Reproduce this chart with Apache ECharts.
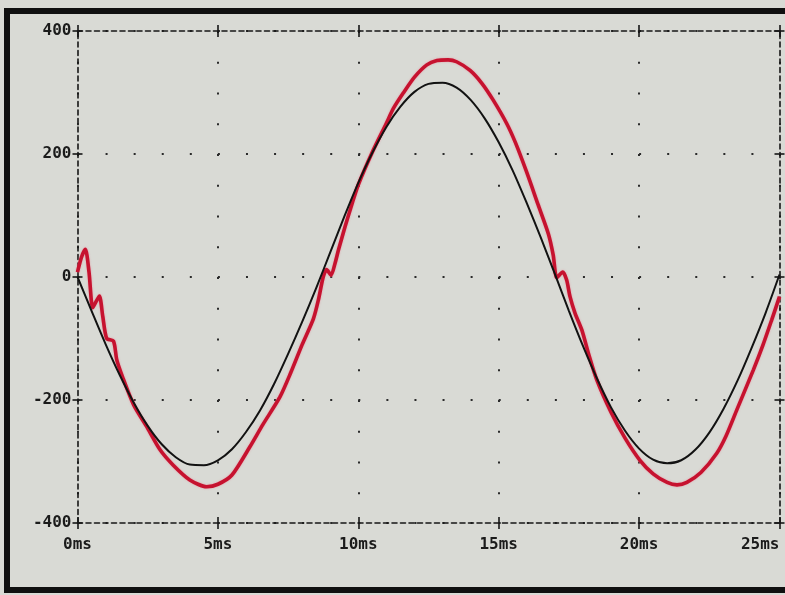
<!DOCTYPE html>
<html>
<head>
<meta charset="utf-8">
<script src="https://cdn.jsdelivr.net/npm/echarts@6/dist/echarts.min.js"></script>
<style>
  html, body { margin: 0; padding: 0; background: #d9dad5; }
  #chart { width: 785px; height: 595px; }
</style>
</head>
<body>
<div id="chart"></div>
<script>
// Time axis (ms) and voltage axis ticks
const timeTicks = [0, 5, 10, 15, 20, 25];
const voltTicks = [-400, -200, 0, 200, 400];

// Reference sine (black trace), sampled every 0.5 ms
const blackT = [0, 0.5, 1, 1.5, 2, 2.5, 3, 3.5, 4, 4.5, 5, 5.5, 6, 6.5, 7, 7.5, 8, 8.5,
  9, 9.5, 10, 10.5, 11, 11.5, 12, 12.5, 13, 13.5, 14, 14.5, 15, 15.5, 16, 16.5, 17,
  17.5, 18, 18.5, 19, 19.5, 20, 20.5, 21, 21.5, 22, 22.5, 23, 23.5, 24, 24.5, 25];
const blackV = [0, -55, -109, -159, -204, -242, -272, -293, -305, -306, -298, -280, -252,
  -217, -174, -125, -73, -18, 40, 98, 153, 202, 244, 277, 301, 314, 316, 308, 288, 258,
  219, 173, 120, 64, 5, -55, -112, -165, -212, -250, -279, -297, -303, -298, -281, -253,
  -215, -169, -116, -59, 4];

// Measured waveform (red trace) with switching ringing near zero crossings
const redT = [0, 0.14, 0.28, 0.41, 0.54, 0.66, 0.78, 0.9, 1.04, 1.28, 1.4, 1.6, 2.0, 2.46,
  2.94, 3.41, 4.0, 4.6, 5.0, 5.5, 6.14, 6.6, 7.21, 7.6, 8.0, 8.4, 8.58, 8.75, 8.87, 9.03,
  9.17, 9.3, 9.53, 9.77, 10.0, 10.53, 11.0, 11.25, 11.6, 12.0, 12.44, 12.8, 13.2, 13.5,
  13.98, 14.4, 14.8, 15.28, 15.6, 16.0, 16.4, 16.77, 16.94, 17.07, 17.28, 17.42, 17.54,
  17.72, 17.96, 18.2, 18.49, 19.0, 19.5, 20.03, 20.5, 21.0, 21.35, 21.7, 22.2, 22.76,
  23.1, 23.48, 24.07, 24.4, 24.72, 25.0];
const redV = [8, 32, 45, 8, -50, -40, -31, -64, -100, -104, -135, -162, -208, -243,
  -281, -306, -330, -341, -337, -322, -276, -240, -195, -155, -110, -68, -37, 0, 12, 3,
  22, 45, 82, 118, 150, 206, 250, 274, 299, 325, 345, 352, 353, 350,
  336, 315, 288, 250, 218, 170, 118, 70, 36, -1, 8, -5, -32,
  -59, -86, -125, -167, -220, -262, -298, -320, -334, -338, -334, -318, -287,
  -258, -216, -151, -112, -70, -32];

const ink = '#161616';
const labelFont = { fontFamily: 'DejaVu Sans Mono', fontWeight: 'bold', fontSize: 16, color: '#1b1b1b' };
const dashedLine = { color: ink, width: 1.6, type: [5, 3.5] };

const xMin = timeTicks[0], xMax = timeTicks[timeTicks.length - 1], xStep = timeTicks[1] - timeTicks[0];
const yMin = voltTicks[0], yMax = voltTicks[voltTicks.length - 1], yStep = voltTicks[1] - voltTicks[0];

function xAxisDef(position, showLine, inside, showLabel, showSplit) {
  return {
    type: 'value', position, min: xMin, max: xMax, interval: xStep,
    axisLine: { show: showLine, onZero: false, lineStyle: dashedLine },
    axisTick: { show: true, inside, length: 6, lineStyle: { color: ink, width: 1.6 } },
    axisLabel: Object.assign({ show: showLabel, margin: 14, formatter: '{value}ms', alignMaxLabel: 'right' }, labelFont),
    splitLine: { show: showSplit, lineStyle: { color: '#2a2a2a', width: 2, type: [2, 28.75] } }
  };
}
function yAxisDef(position, showLine, inside, showLabel, showSplit) {
  return {
    type: 'value', position, min: yMin, max: yMax, interval: yStep,
    axisLine: { show: showLine, onZero: false, lineStyle: dashedLine },
    axisTick: { show: true, inside, length: 5, lineStyle: { color: ink, width: 1.6 } },
    axisLabel: Object.assign({ show: showLabel, margin: 6 }, labelFont),
    splitLine: { show: showSplit, lineStyle: { color: '#2a2a2a', width: 2, type: [2, 26.08] } }
  };
}

const chart = echarts.init(document.getElementById('chart'), null, { renderer: 'canvas' });
chart.setOption({
  animation: false,
  backgroundColor: '#d9dad5',
  grid: { left: 77.5, right: 5.5, top: 31, bottom: 72 },
  graphic: [{
    type: 'rect', z: 0, silent: true,
    shape: { x: 7, y: 11, width: 820, height: 579 },
    style: { fill: null, stroke: '#101010', lineWidth: 6 }
  }],
  xAxis: [
    xAxisDef('bottom', true, false, true, true),
    xAxisDef('bottom', false, true, false, false),
    xAxisDef('top', true, true, false, false),
    xAxisDef('top', false, false, false, false)
  ],
  yAxis: [
    yAxisDef('left', true, false, true, true),
    yAxisDef('left', false, true, false, false),
    yAxisDef('right', true, true, false, false),
    yAxisDef('right', false, false, false, false)
  ],
  series: [
    {
      name: 'measured', type: 'line', xAxisIndex: 0, yAxisIndex: 0,
      data: redT.map((t, i) => [t, redV[i]]),
      showSymbol: false, smooth: 0.25, z: 3,
      lineStyle: { color: '#c6122f', width: 3.6, shadowColor: 'rgba(235,120,140,0.7)', shadowBlur: 2 }
    },
    {
      name: 'reference', type: 'line', xAxisIndex: 0, yAxisIndex: 0,
      data: blackT.map((t, i) => [t, blackV[i]]),
      showSymbol: false, smooth: 0.3, z: 4,
      lineStyle: { color: '#121212', width: 2 }
    }
  ]
});
</script>
</body>
</html>
